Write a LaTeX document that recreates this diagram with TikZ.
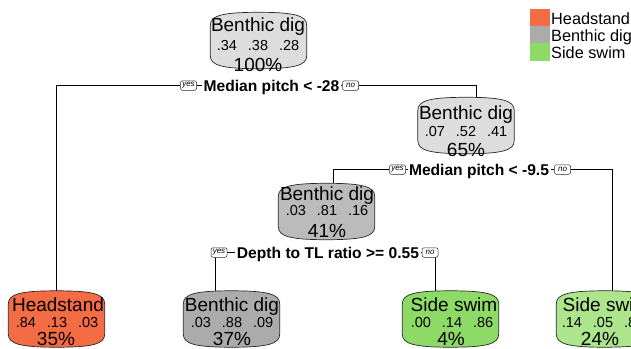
\documentclass[tikz,border=0pt]{standalone}
\usepackage{fontspec}
\setmainfont{Liberation Sans}
\usetikzlibrary{backgrounds}
\definecolor{cHead}{RGB}{244,108,67}
\definecolor{cGray}{RGB}{171,171,171}
\definecolor{cGreen}{RGB}{141,218,102}
\definecolor{cPale}{RGB}{221,221,221}
\definecolor{cMid}{RGB}{187,187,187}
\definecolor{cLtGreen}{RGB}{172,229,140}
% outline of an rpart-style box around the (invisible) node #1, filled with #2
\newcommand{\rpbox}[2]{%
  \draw[boxline, fill=#2]
    ([yshift=-13pt]#1.north west)
      .. controls ([yshift=-3pt]#1.north west) and ([xshift=13pt]#1.north west) .. (#1.north)
      .. controls ([xshift=-13pt]#1.north east) and ([yshift=-3pt]#1.north east) .. ([yshift=-13pt]#1.north east)
    -- ([yshift=13pt]#1.south east)
      .. controls ([yshift=3pt]#1.south east) and ([xshift=-13pt]#1.south east) .. (#1.south)
      .. controls ([xshift=13pt]#1.south west) and ([yshift=3pt]#1.south west) .. ([yshift=13pt]#1.south west)
    -- cycle;}
\begin{document}
\begin{tikzpicture}[x=1pt,y=-1pt,
  treebox/.style={inner sep=0pt, minimum width=96pt, minimum height=56pt},
  boxline/.style={draw=black!85, line width=0.7pt},
  clsname/.style={anchor=base, inner sep=0pt, font=\fontsize{19}{19}\selectfont},
  probs/.style={anchor=base, inner sep=0pt, font=\fontsize{14.5}{15}\selectfont},
  pcttext/.style={anchor=base, inner sep=0pt, font=\fontsize{19}{19}\selectfont},
  splitlab/.style={anchor=base, fill=white, inner xsep=1.5pt, inner ysep=1pt, font=\bfseries\fontsize{15.6}{16}\selectfont},
  ynbox/.style={draw=black!85, line width=0.5pt, fill=white, rounded corners=2pt, inner sep=0pt, minimum width=16pt, minimum height=9.5pt, font=\itshape\fontsize{8}{8}\selectfont},
  legsq/.style={inner sep=0pt, minimum width=20pt},
  legtext/.style={anchor=base west, inner sep=0pt, font=\fontsize{16.3}{17}\selectfont},
  conn/.style={draw=black, line width=0.75pt}
]
\useasboundingbox (0,0) rectangle (631,348);
\clip (0,0) rectangle (631,348);

% ---- boxes ----
\node[treebox] (root) at (258.5,40.5) {};
\node[treebox] (nb) at (466,125.5) {};
\node[treebox] (nc) at (326.5,211.5) {};
\node[treebox] (lh) at (56.5,319) {};
\node[treebox] (lb) at (231.5,319) {};
\node[treebox] (ls) at (450.5,319) {};
\node[treebox] (lr) at (604.5,319) {};
\rpbox{root}{cPale}
\rpbox{nb}{cPale}
\rpbox{nc}{cMid}
\rpbox{lh}{cHead}
\rpbox{lb}{cGray}
\rpbox{ls}{cGreen}
\rpbox{lr}{cLtGreen}

% ---- texts ----
\node[clsname] (rootc) at (258,31.8) {Benthic dig};
\node[probs] (rootp) at (258,50.2) {.34\hspace{11pt}.38\hspace{11pt}.28};
\node[pcttext] (rootq) at (258,71.3) {100\%};

\node[clsname] (nbc) at (466,119.5) {Benthic dig};
\node[probs] (nbp) at (466,136.5) {.07\hspace{11pt}.52\hspace{11pt}.41};
\node[pcttext] (nbq) at (466,156.5) {65\%};

\node[clsname] (ncc) at (327,200.5) {Benthic dig};
\node[probs] (ncp) at (327,215) {.03\hspace{11pt}.81\hspace{11pt}.16};
\node[pcttext] (ncq) at (327,237) {41\%};

\node[clsname] (lhc) at (58,311) {Headstand};
\node[probs] (lhp) at (57,327) {.84\hspace{11pt}.13\hspace{11pt}.03};
\node[pcttext] (lhq) at (56,345) {35\%};

\node[clsname] (lbc) at (232,311) {Benthic dig};
\node[probs] (lbp) at (232,327) {.03\hspace{11pt}.88\hspace{11pt}.09};
\node[pcttext] (lbq) at (232,345) {37\%};

\node[clsname] (lsc) at (454,311) {Side swim};
\node[probs] (lsp) at (452,327) {.00\hspace{11pt}.14\hspace{11pt}.86};
\node[pcttext] (lsq) at (451,345) {4\%};

\node[clsname] (lrc) at (606,311) {Side swim};
\node[probs] (lrp) at (603,327) {.14\hspace{11pt}.05\hspace{11pt}.81};
\node[pcttext] (lrq) at (600,345) {24\%};

% ---- split labels ----
\node[splitlab] (s1) at (271.5,91.6) {Median pitch < -28};
\node[ynbox] (y1) at (188.5,85.5) {yes};
\node[ynbox] (n1) at (350.5,85.5) {no};

\node[splitlab] (s2) at (479,175.6) {Median pitch < -9.5};
\node[ynbox] (y2) at (397.5,169.5) {yes};
\node[ynbox] (n2) at (562.5,169.5) {no};

\node[splitlab] (s3) at (328,258.6) {Depth to TL ratio >= 0.55};
\node[ynbox] (y3) at (219,252.5) {yes};
\node[ynbox] (n3) at (430,252.5) {no};

% ---- connectors ----
\begin{scope}[on background layer]
\draw[conn] (lh.north) |- (y1.west);
\draw[conn] (y1.east) -- (n1.west);
\draw[conn] (n1.east) -| ([xshift=10pt]nb.north);
\draw[conn] ([xshift=6.5pt]nc.north) |- (y2.west);
\draw[conn] (y2.east) -- (n2.west);
\draw[conn] (n2.east) -| ([xshift=8pt]lr.north);
\draw[conn] ([xshift=-16.5pt]lb.north) |- (y3.west);
\draw[conn] (y3.east) -- (n3.west);
\draw[conn] (n3.east) -| ([xshift=-15pt]ls.north);
\end{scope}

% ---- legend ----
\node[legsq, fill=cHead, minimum height=17pt] (k1) at (540,17.5) {};
\node[legsq, fill=cGray, minimum height=17pt] (k2) at (540,34.5) {};
\node[legsq, fill=cGreen, minimum height=18pt] (k3) at (540,52) {};
\node[legtext] (t1) at (551,24.5) {Headstand};
\node[legtext] (t2) at (551,41.5) {Benthic dig};
\node[legtext] (t3) at (551,58) {Side swim};
\end{tikzpicture}
\end{document}
